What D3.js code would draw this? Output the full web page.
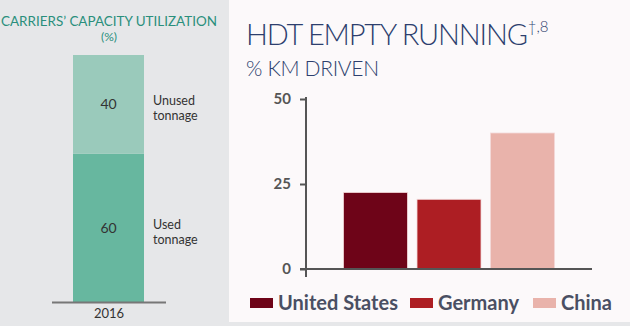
<!DOCTYPE html>
<html><head><meta charset="utf-8">
<script src="https://cdn.jsdelivr.net/npm/d3@7"></script>
<style>body{margin:0;background:#fff}svg{display:block}</style>
</head><body>
<svg id="c" width="630" height="326"></svg>
<script>
// Left chart data
const capYear = ["2016"];
const capSegments = ["Used", "Unused"];
const capValues = [60, 40];
const capLabels = [["Used","tonnage"],["Unused","tonnage"]];
// Right chart data
const countries = ["United States", "Germany", "China"];
const emptyRunning = [22.5, 20.5, 40];
const yTicks = [0, 25, 50];

const svg = d3.select("#c");
svg.append("rect").attr("x",0).attr("y",0).attr("width",630).attr("height",326).attr("fill","#e6e7e9");
svg.append("rect").attr("x",229).attr("y",0).attr("width",401).attr("height",322).attr("fill","#fcf9fa");

// ---- Left chart
const gL = svg.append("g");
gL.append("text").attr("x",109).attr("y",26).attr("text-anchor","middle")
  .attr("font-family","Lato, sans-serif").attr("font-size",13.5)
  .attr("fill","#2a8f7c").attr("textLength",216).attr("lengthAdjust","spacingAndGlyphs").text("CARRIERS’ CAPACITY UTILIZATION");
gL.append("text").attr("x",109).attr("y",41).attr("text-anchor","middle")
  .attr("font-family","Lato, sans-serif").attr("font-size",12).attr("fill","#2a8f7c").text("(%)");

const xL = d3.scaleBand().domain(capYear).range([73,144]).padding(0);
const yL = d3.scaleLinear().domain([0,100]).range([302,55]);
const colorsL = ["#67b79f","#9acabb"];
let cum = 0;
capValues.forEach((v,i)=>{
  const y0 = cum, y1 = cum + v; cum = y1;
  gL.append("rect").attr("x",xL("2016")).attr("width",xL.bandwidth())
    .attr("y",yL(y1)).attr("height",yL(y0)-yL(y1)).attr("fill",colorsL[i]);
  gL.append("text").attr("x",xL("2016")+xL.bandwidth()/2).attr("y",yL((y0+y1)/2)+5)
    .attr("text-anchor","middle").attr("font-family","Lato, sans-serif").attr("font-size",14)
    .attr("fill","#333").text(v);
  const lab = gL.append("text").attr("font-family","Lato, sans-serif").attr("font-size",12.5).attr("fill","#333");
  lab.append("tspan").attr("x",153).attr("y",yL((y0+y1)/2)+1).text(capLabels[i][0]);
  lab.append("tspan").attr("x",153).attr("y",yL((y0+y1)/2)+16).text(capLabels[i][1]);
});
gL.append("line").attr("x1",52).attr("x2",166).attr("y1",302.5).attr("y2",302.5).attr("stroke","#777").attr("stroke-width",2);
gL.append("text").attr("x",109).attr("y",318).attr("text-anchor","middle")
  .attr("font-family","Lato, sans-serif").attr("font-size",13).attr("fill","#333").text("2016");

// ---- Right chart
const gR = svg.append("g");
const tt = gR.append("text").attr("x",246).attr("y",45).attr("font-family","Lato, sans-serif").attr("font-weight",300)
  .attr("font-size",29).attr("fill","#2d3f6e");
tt.append("tspan").attr("textLength",282).text("HDT EMPTY RUNNING");
tt.append("tspan").attr("font-size",15).attr("dy",-13).attr("dx",1).text("†,8");
gR.append("text").attr("x",246).attr("y",76).attr("font-family","Lato, sans-serif").attr("font-weight",300)
  .attr("font-size",21).attr("fill","#2d3f6e").attr("textLength",133).text("% KM DRIVEN");

const xR = d3.scaleBand().domain(countries).range([342,556]).paddingInner(0.13).paddingOuter(0.02);
const yR = d3.scaleLinear().domain([0,50]).range([269,99]);
const colorsR = ["#6e0418","#ad1e23","#e9b3ab"];
gR.selectAll("rect.bar").data(countries).join("rect").attr("class","bar")
  .attr("x",d=>xR(d)).attr("width",xR.bandwidth())
  .attr("y",(d,i)=>yR(emptyRunning[i])).attr("height",(d,i)=>yR(0)-yR(emptyRunning[i]))
  .attr("fill",(d,i)=>colorsR[i]).attr("stroke","#f3d9d9").attr("stroke-width",0.8);

const yAxis = d3.axisLeft(yR).tickValues(yTicks).tickSize(6).tickSizeOuter(0);
const ag = gR.append("g").attr("transform","translate(306,0)").call(yAxis);
ag.select(".domain").attr("stroke","#555").attr("stroke-width",2).attr("d","M0,97V277");
ag.selectAll(".tick line").attr("stroke","#555").attr("stroke-width",2);
ag.selectAll(".tick text").attr("font-family","Lato, sans-serif").attr("font-weight",700)
  .attr("font-size",15).attr("fill","#555").attr("x",-15);
gR.append("line").attr("x1",300).attr("x2",592).attr("y1",yR(0)).attr("y2",yR(0)).attr("stroke","#555").attr("stroke-width",2);

// Legend
const legX = [250,410,533];
countries.forEach((c,i)=>{
  gR.append("rect").attr("x",legX[i]).attr("y",298).attr("width",23).attr("height",10).attr("fill",colorsR[i]);
  gR.append("text").attr("x",legX[i]+28).attr("y",310).attr("font-family","Lato, sans-serif").attr("font-weight",700)
    .attr("font-size",20).attr("fill","#4a4f63").text(c);
});
</script>
</body></html>
